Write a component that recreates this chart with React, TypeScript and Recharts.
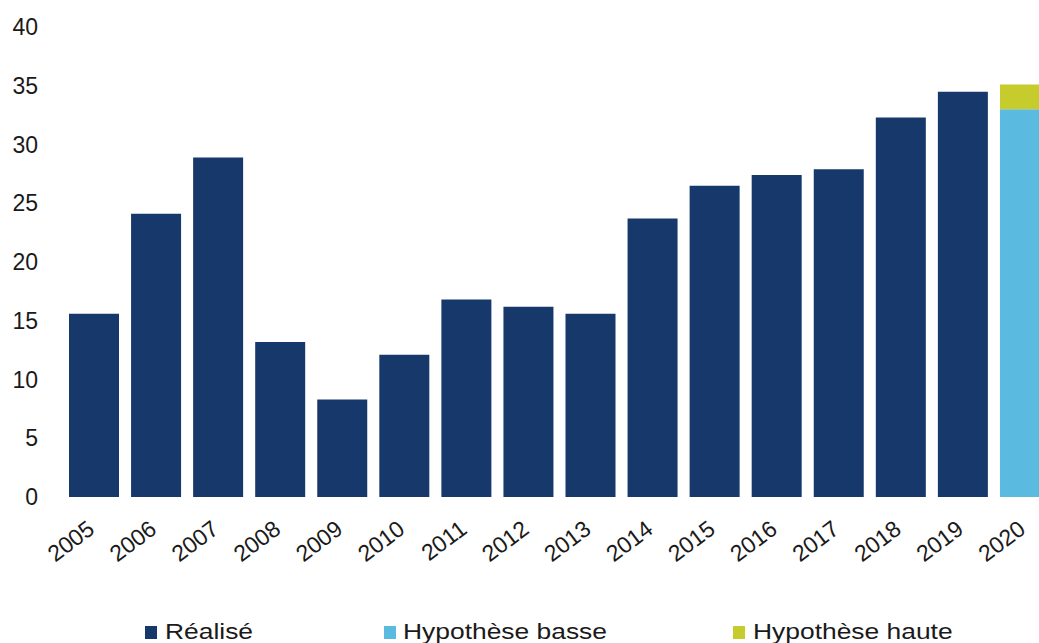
import React from "react";
import { BarChart, Bar, XAxis, YAxis, Legend } from "recharts";

const years = ["2005","2006","2007","2008","2009","2010","2011","2012","2013","2014","2015","2016","2017","2018","2019","2020"];
const realise = [15.6, 24.1, 28.9, 13.2, 8.3, 12.1, 16.8, 16.2, 15.6, 23.7, 26.5, 27.4, 27.9, 32.3, 34.5, null];
const hypBasse = [null, null, null, null, null, null, null, null, null, null, null, null, null, null, null, 33.0];
const hypHaute = [null, null, null, null, null, null, null, null, null, null, null, null, null, null, null, 35.1];
const yTicks = [0, 5, 10, 15, 20, 25, 30, 35, 40];

const NAVY = "#17386a";
const LIGHT = "#5bbadf";
const YELLOW = "#c5cc2c";
const FONT = "'Liberation Sans', Arial, sans-serif";

const data = years.map((y, i) => ({
  year: y,
  realise: realise[i],
  basse: hypBasse[i],
  haute: hypHaute[i] != null && hypBasse[i] != null ? +((hypHaute[i] as number) - (hypBasse[i] as number)).toFixed(2) : null,
}));

const XTick = (props: any) => {
  const { x, y, payload } = props;
  return (
    <g transform={`translate(${x + 2},${y + 35})`}>
      <text textAnchor="end" transform="rotate(-37)" fontSize={23} fontFamily={FONT} fill="#1a1a1a">
        {payload.value}
      </text>
    </g>
  );
};

const legendItems = [
  { label: "Réalisé", color: NAVY, sq: 145, tx: 165 },
  { label: "Hypothèse basse", color: LIGHT, sq: 384, tx: 403 },
  { label: "Hypothèse haute", color: YELLOW, sq: 733, tx: 753 },
];

const LegendContent = () => (
  <div style={{ position: "relative", width: 1039, height: 33 }}>
    {legendItems.map((it) => (
      <React.Fragment key={it.label}>
        <div
          style={{
            position: "absolute",
            left: it.sq,
            top: 16,
            width: 12,
            height: 13,
            background: it.color,
          }}
        />
        <div
          style={{
            position: "absolute",
            left: it.tx,
            top: 9,
            fontFamily: FONT,
            fontSize: 22,
            lineHeight: "26px",
            color: "#1a1a1a",
            whiteSpace: "nowrap",
            transform: "scaleX(1.2)",
            transformOrigin: "left center",
          }}
        >
          {it.label}
        </div>
      </React.Fragment>
    ))}
  </div>
);

export default function App() {
  return (
    <div style={{ position: "fixed", left: 0, top: 0, width: 1039, height: 643, overflow: "hidden", background: "#fff" }}>
      <BarChart
        width={1056}
        height={643}
        data={data}
        margin={{ top: 27, right: 0, bottom: 0, left: 0 }}
        barCategoryGap={6}
      >
        <XAxis
          dataKey="year"
          height={146}
          axisLine={false}
          tickLine={false}
          tickSize={0}
          tickMargin={0}
          interval={0}
          tick={<XTick />}
        />
        <YAxis
          width={63}
          domain={[0, 40]}
          ticks={yTicks}
          axisLine={false}
          tickLine={false}
          tickSize={0}
          tickMargin={25}
          tick={{ fontSize: 23, fontFamily: FONT, fill: "#1a1a1a" }}
        />
        <Legend
          layout="horizontal"
          verticalAlign="middle"
          align="center"
          content={<LegendContent />}
          wrapperStyle={{ left: 0, top: 610, width: 1039, height: 33 }}
        />
        <Bar dataKey="realise" name="Réalisé" stackId="a" fill={NAVY} isAnimationActive={false} />
        <Bar dataKey="basse" name="Hypothèse basse" stackId="a" fill={LIGHT} isAnimationActive={false} />
        <Bar dataKey="haute" name="Hypothèse haute" stackId="a" fill={YELLOW} isAnimationActive={false} />
      </BarChart>
    </div>
  );
}
